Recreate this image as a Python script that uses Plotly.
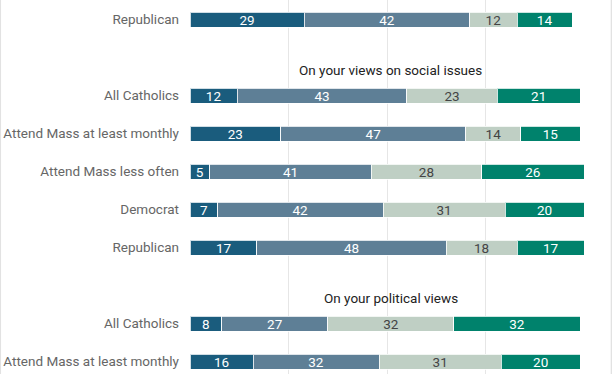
import plotly.graph_objects as go

# ---- data ----
row_labels = ["Republican", "All Catholics", "Attend Mass at least monthly",
              "Attend Mass less often", "Democrat", "Republican",
              "All Catholics", "Attend Mass at least monthly"]
row_group = [0, 1, 1, 1, 1, 1, 2, 2]
group_titles = ["", "On your views on social issues", "On your political views"]

series_names = ["A lot", "Some", "Not too much", "Not at all"]
val_a = [29, 12, 23, 5, 7, 17, 8, 16]
val_b = [42, 43, 47, 41, 42, 48, 27, 32]
val_c = [12, 23, 14, 28, 31, 18, 32, 31]
val_d = [14, 21, 15, 26, 20, 17, 32, 20]
series_values = [val_a, val_b, val_c, val_d]

colors = ["#1a5c7d", "#5e7f96", "#bfcfc4", "#00826c"]
text_colors = ["#ffffff", "#ffffff", "#444444", "#ffffff"]

FONT = "Roboto, 'Noto Sans', sans-serif"

# ---- layout of rows: a header slot precedes each new group ----
positions = []
header_pos = {}
pos = 0
prev = row_group[0]
for i, g in enumerate(row_group):
    if i > 0 and g != prev:
        pos += 1
        header_pos[g] = pos
        pos += 1
    elif i > 0:
        pos += 1
    positions.append(pos)
    prev = g

fig = go.Figure()
for name, vals, col, tcol in zip(series_names, series_values, colors, text_colors):
    fig.add_trace(go.Bar(
        y=positions, x=vals, name=name, orientation="h",
        marker=dict(color=col, line=dict(color="rgba(255,255,255,0.8)", width=1)),
        width=0.4,
        text=[str(v) for v in vals], textposition="inside",
        insidetextanchor="middle", textangle=0,
        textfont=dict(family=FONT, size=13.5, color=tcol),
        constraintext="none",
        hoverinfo="skip",
    ))

for g, p in header_pos.items():
    fig.add_annotation(x=51, y=p, xref="x", yref="y", text=group_titles[g],
                       showarrow=False, yshift=-12,
                       font=dict(family=FONT, size=13.5, color="#222222"))

# frame lines on the left and right edges
for xp in [-0.4815, 1.0696]:
    fig.add_shape(type="line", xref="paper", yref="paper", x0=xp, x1=xp, y0=0, y1=1,
                  line=dict(color="#e2e2e2", width=1.5))

fig.update_layout(
    width=612, height=374,
    margin=dict(l=190, r=28.4, t=0, b=0),
    barmode="stack", showlegend=False,
    plot_bgcolor="white", paper_bgcolor="white",
    xaxis=dict(range=[0, 100], dtick=25, tick0=0, showgrid=True,
               gridcolor="#e6e6e6", gridwidth=1, zeroline=False,
               showticklabels=False, showline=False),
    yaxis=dict(range=[9.324, -0.518], tickmode="array", tickvals=positions,
               ticktext=row_labels, showgrid=False, zeroline=False,
               ticks="", ticklabelstandoff=10,
               tickfont=dict(family=FONT, size=13.5, color="#666666")),
)

fig.write_html("out.html", config={"displayModeBar": False},
               post_script="document.body.style.margin='0';document.body.style.overflow='hidden';")
